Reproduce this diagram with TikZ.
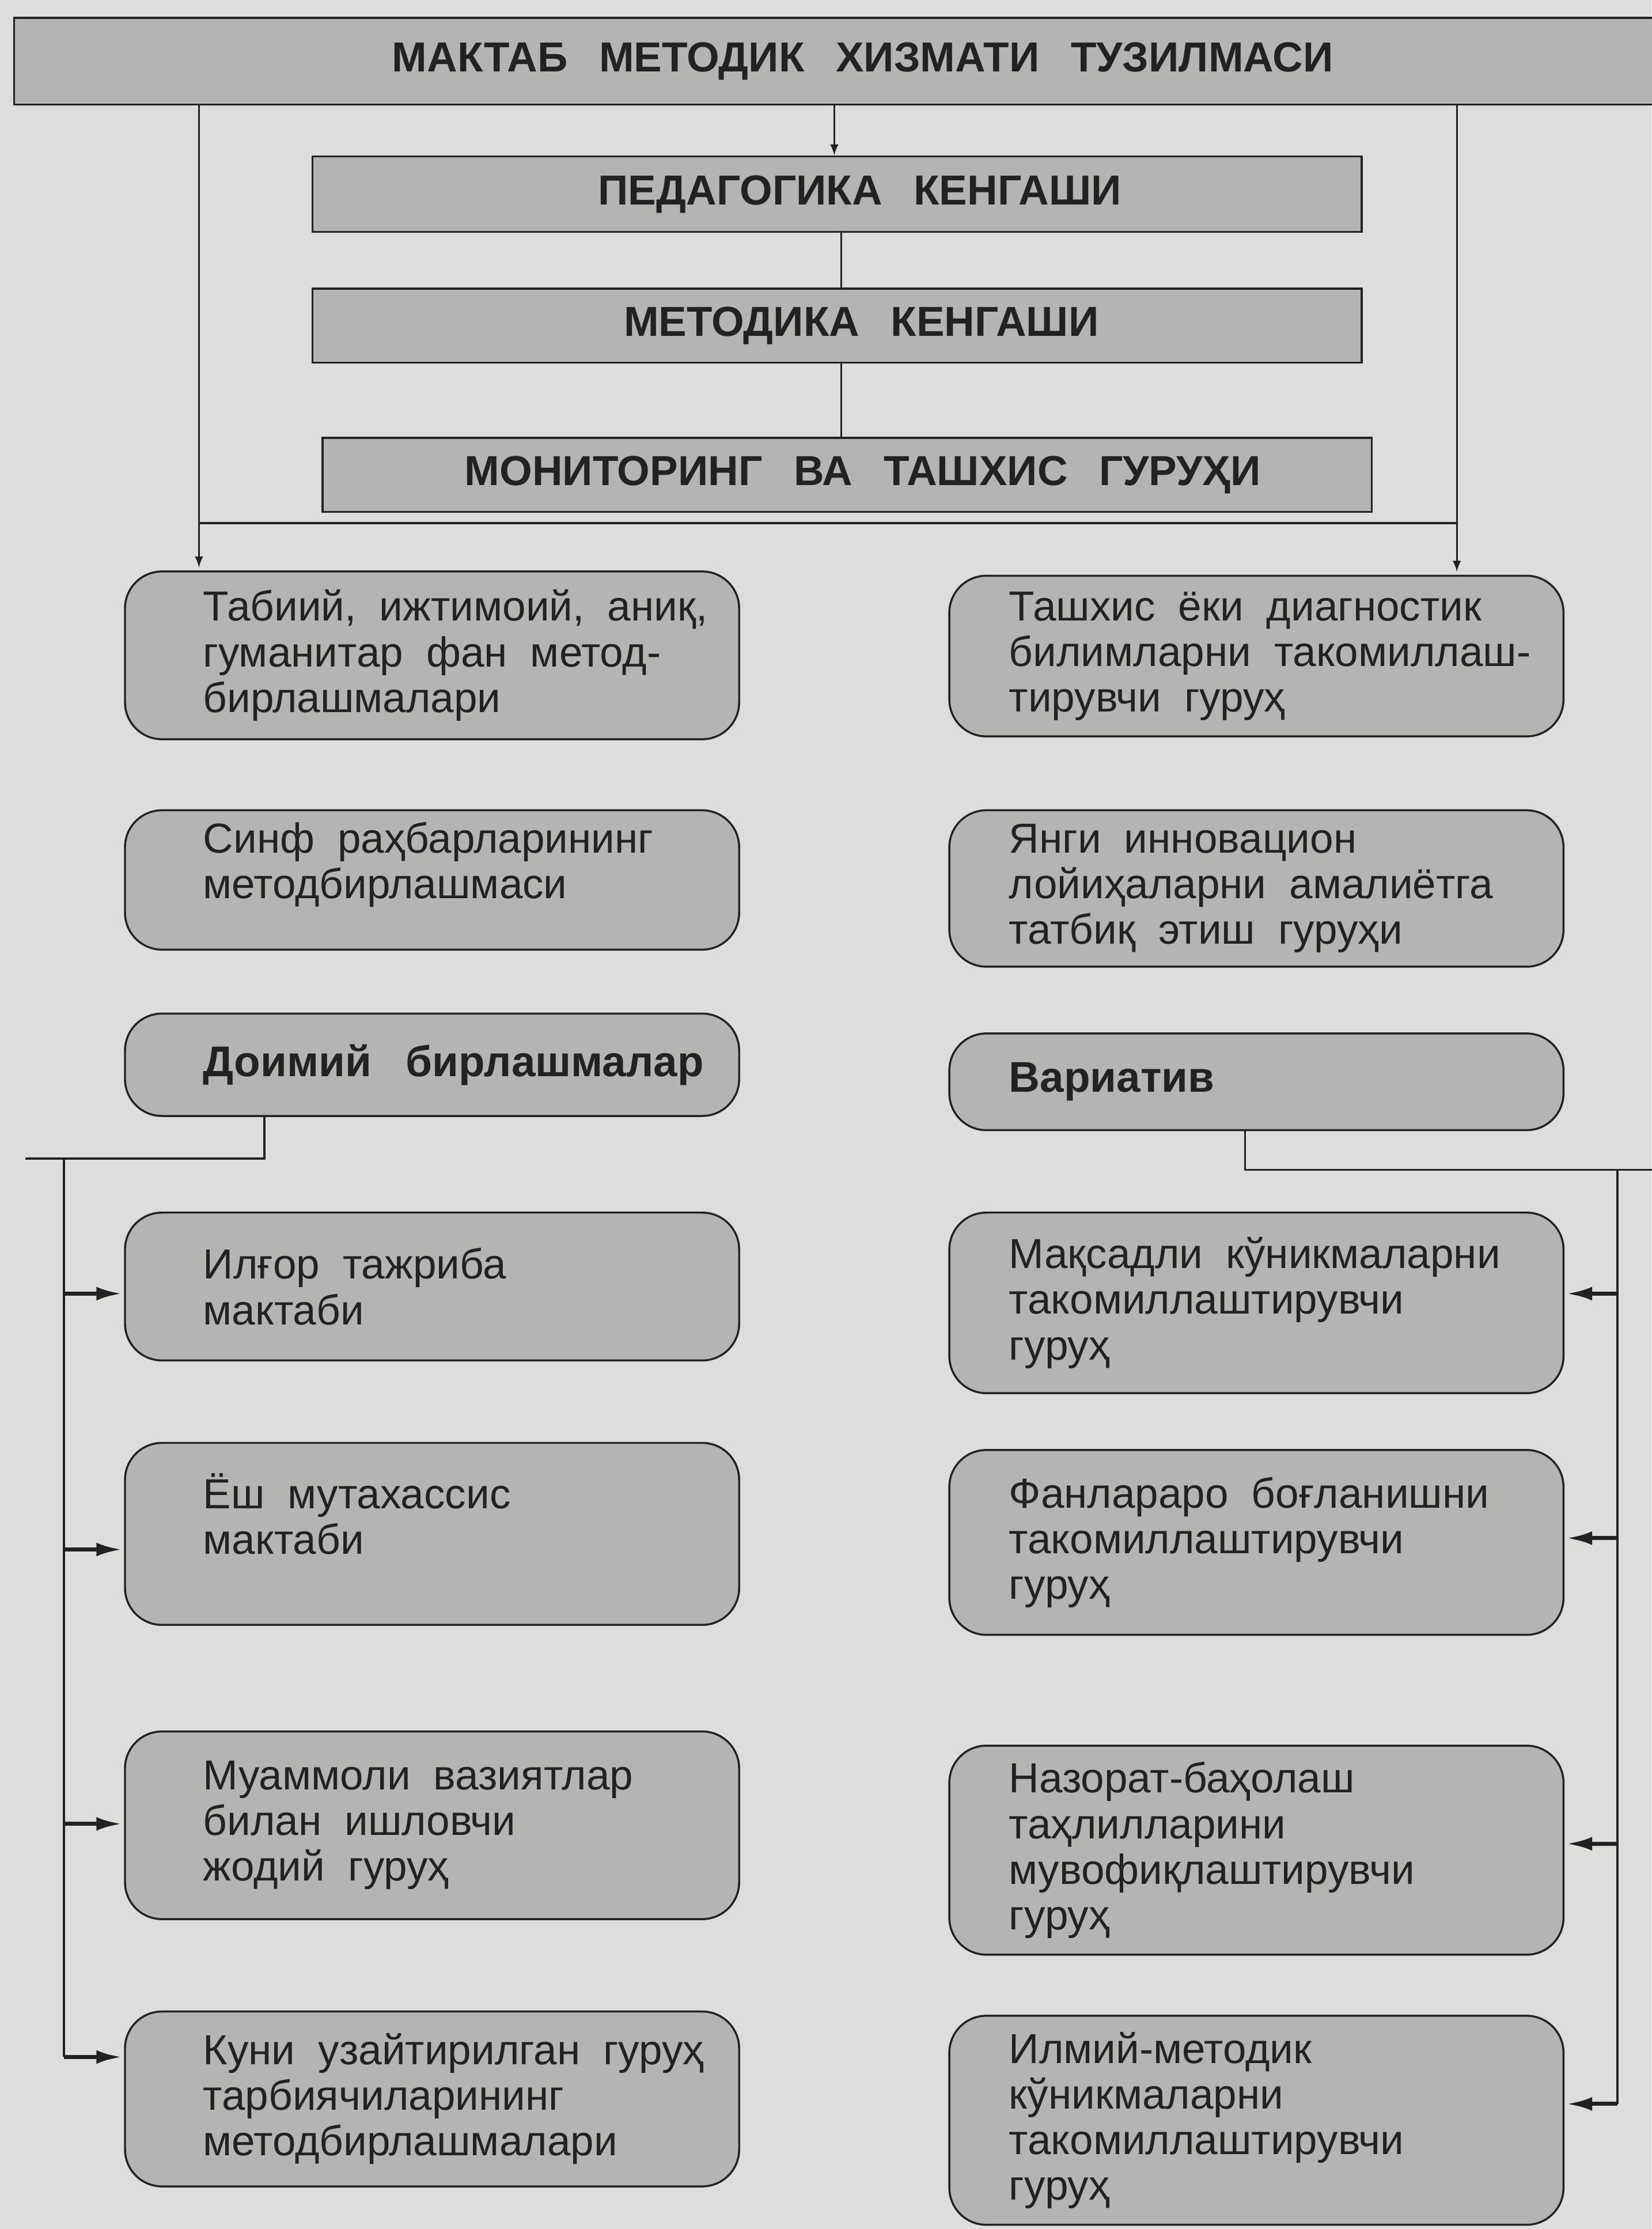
\documentclass[tikz,border=0pt]{standalone}
\usepackage{fontspec}
\setmainfont{Liberation Sans}
\usetikzlibrary{arrows.meta}
\definecolor{paper}{RGB}{221,221,219}
\definecolor{boxgray}{RGB}{180,180,178}
\definecolor{ink}{RGB}{34,34,34}
\newcommand\headfont{\fontsize{21}{24}\selectfont\bfseries}
\newcommand\grpfont{\fontsize{21}{22.8}\selectfont}
\newcommand\lift{\rule[-0.7cm]{0pt}{0pt}}
\tikzset{
  headbox/.style={draw=ink,line width=1pt,fill=boxgray,text=ink,inner sep=0pt,
    font=\headfont,execute at begin node={\spaceskip=0.75em\relax}},
  grpbox/.style={draw=ink,line width=1pt,fill=boxgray,text=ink,rounded corners=0.65cm,
    inner sep=0pt,text width=10.8cm,align=left,font=\grpfont,
    execute at begin node={\spaceskip=0.55em\relax}},
  lgrp/.style={grpbox,execute at begin node={\leftskip=1.375cm\relax}},
  rgrp/.style={grpbox,execute at begin node={\leftskip=1.05cm\relax}},
  grphead/.style={font=\fontsize{21.5}{24}\selectfont\bfseries,execute at begin node={\spaceskip=0.8em\relax}},
  feed/.style={draw=ink,line width=2pt,-{Latex[length=0.45cm,width=0.24cm]},shorten >=1pt},
}
\begin{document}
\begin{tikzpicture}[>=latex,x=0.025cm,y=-0.025cm,line width=0.9pt,draw=ink]
\useasboundingbox (0,0) rectangle (1162,1568);
\fill[paper] (0,0) rectangle (1162,1568);
%%
\node (title) at (607,43) [headbox,minimum width=29.85cm,minimum height=1.525cm] {МАКТАБ МЕТОДИК ХИЗМАТИ ТУЗИЛМАСИ};
  \node (ped) at (589,136.5) [headbox,minimum width=18.45cm,minimum height=1.325cm] {\hspace*{0.8cm}ПЕДАГОГИКА КЕНГАШИ};
  \node (met) at (589,229) [headbox,minimum width=18.45cm,minimum height=1.3cm] {\hspace*{0.85cm}МЕТОДИКА КЕНГАШИ};
  \node (mon) at (596,334) [headbox,minimum width=18.45cm,minimum height=1.3cm] {\hspace*{0.55cm}МОНИТОРИНГ ВА ТАШХИС ГУРУҲИ};
%
\node (L1) at (304,461) [lgrp,minimum height=2.95cm] {Табиий, ижтимоий, аниқ,\\гуманитар фан метод-\\бирлашмалари};
  \node (L2) at (304,619) [lgrp,minimum height=2.45cm] {Синф раҳбарларининг\\методбирлашмаси\lift};
  \node (L3) at (304,749) [lgrp,grphead,minimum height=1.8cm] {Доимий бирлашмалар};
  \node (L4) at (304,905) [lgrp,minimum height=2.6cm] {Илғор тажриба\\мактаби};
  \node (L5) at (304,1079) [lgrp,minimum height=3.2cm] {Ёш мутахассис\\мактаби\lift};
  \node (L6) at (304,1284) [lgrp,minimum height=3.3cm] {Муаммоли вазиятлар\\билан ишловчи\\жодий гуруҳ};
  \node (L7) at (304,1476.5) [lgrp,minimum height=3.075cm] {Куни узайтирилган гуруҳ\\тарбиячиларининг\\методбирлашмалари};
%
\node (R1) at (884,461.5) [rgrp,minimum height=2.825cm] {Ташхис ёки диагностик\\билимларни такомиллаш-\\тирувчи гуруҳ};
  \node (R2) at (884,625) [rgrp,minimum height=2.75cm] {Янги инновацион\\лойиҳаларни амалиётга\\татбиқ этиш гуруҳи};
  \node (R3) at (884,761) [rgrp,grphead,minimum height=1.7cm] {Вариатив};
  \node (R4) at (884,916.5) [rgrp,minimum height=3.175cm] {Мақсадли кўникмаларни\\такомиллаштирувчи\\гуруҳ};
  \node (R5) at (884,1085) [rgrp,minimum height=3.25cm] {Фанлараро боғланишни\\такомиллаштирувчи\\гуруҳ};
  \node (R6) at (884,1301.5) [rgrp,minimum height=3.675cm] {Назорат-баҳолаш\\таҳлилларини\\мувофиқлаштирувчи\\гуруҳ};
  \node (R7) at (884,1491.5) [rgrp,minimum height=3.675cm] {Илмий-методик\\кўникмаларни\\такомиллаштирувчи\\гуруҳ};
%
\coordinate (tx) at (587,0);
  \coordinate (mx) at (592,0);
  \coordinate (lx) at (140,0);
  \coordinate (rx) at (1025,0);
  \coordinate (hy) at (0,368);
  \draw [->] (title.south -| tx) -- (ped.north -| tx);
  \draw (ped.south -| mx) -- (met.north -| mx);
  \draw (met.south -| mx) -- (mon.north -| mx);
  \draw [->,shorten >=1.5pt] (title.south -| lx) -- (L1.north -| lx);
  \draw [->,shorten >=1.5pt] (title.south -| rx) -- (R1.north -| rx);
  \draw [line width=1.2pt] (lx |- hy) -- (rx |- hy);
%
\coordinate (lb) at (186,815);
  \coordinate (lend) at (18,815);
  \coordinate (lbus) at (45,815);
  \coordinate (la4) at (45,910);
  \coordinate (la5) at (45,1090);
  \coordinate (la6) at (45,1283);
  \coordinate (la7) at (45,1447);
  \draw (L3.south -| lb) -- (lb) -- (lend);
  \draw (lbus) -- (la7);
  \draw [feed] (la4) -- (L4.west |- la4);
  \draw [feed] (la5) -- (L5.west |- la5);
  \draw [feed] (la6) -- (L6.west |- la6);
  \draw [feed] (la7) -- (L7.west |- la7);
%
\coordinate (rb) at (876,823);
  \coordinate (rend) at (1175,823);
  \coordinate (rbus) at (1138,823);
  \coordinate (ra4) at (1138,910);
  \coordinate (ra5) at (1138,1082);
  \coordinate (ra6) at (1138,1297);
  \coordinate (ra7) at (1138,1480);
  \draw (R3.south -| rb) -- (rb) -- (rend);
  \draw (rbus) -- (ra7);
  \draw [feed] (ra4) -- (R4.east |- ra4);
  \draw [feed] (ra5) -- (R5.east |- ra5);
  \draw [feed] (ra6) -- (R6.east |- ra6);
  \draw [feed] (ra7) -- (R7.east |- ra7);
%
\end{tikzpicture}
\end{document}
